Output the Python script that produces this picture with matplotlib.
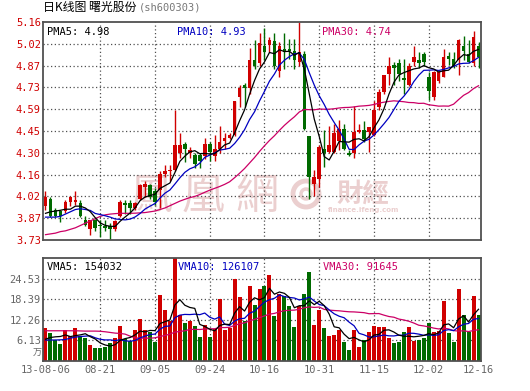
import matplotlib
matplotlib.use('Agg')
import matplotlib.pyplot as plt
from matplotlib.patches import Circle

W, H = 530, 391

# x axis labels (trading-day index of each label)
dates = ['13-08-06', '08-21', '09-05', '09-24', '10-16', '10-31', '11-15', '12-02', '12-16']
date_pos = [0, 11, 22, 33, 44, 55, 66, 77, 87]

opens = [3.95, 4.00, 3.93, 3.92, 3.92, 3.98, 3.98, 3.97, 3.86, 3.80,
         3.86, 3.83, 3.82, 3.82, 3.80, 3.89, 3.97, 3.97, 3.94, 4.00,
         4.08, 4.09, 4.05, 4.06, 4.16, 4.18, 4.19, 4.30, 4.36, 4.30,
         4.29, 4.29, 4.28, 4.36, 4.28, 4.33, 4.38, 4.40, 4.42, 4.67,
         4.75, 4.73, 4.91, 4.89, 5.00, 5.01, 5.035, 4.84, 4.98, 4.98,
         4.97, 4.90, 4.95, 4.41, 4.10, 4.13, 4.33, 4.31, 4.31, 4.38,
         4.46, 4.30, 4.30, 4.44, 4.45, 4.44, 4.42, 4.60, 4.70, 4.82,
         4.88, 4.89, 4.79, 4.75, 4.90, 4.91, 4.95, 4.80, 4.67, 4.77,
         4.80, 4.94, 4.92, 4.91, 5.00, 4.95, 4.89, 5.00]
highs = [4.05, 4.01, 3.94, 3.93, 3.99, 4.02, 4.05, 3.99, 3.89, 3.86,
         3.87, 3.86, 3.86, 3.84, 3.86, 3.99, 3.99, 3.99, 3.98, 4.10,
         4.12, 4.10, 4.07, 4.18, 4.22, 4.22, 4.58, 4.43, 4.37, 4.34,
         4.30, 4.30, 4.40, 4.37, 4.42, 4.48, 4.43, 4.43, 4.64, 4.75,
         4.76, 4.99, 5.04, 5.09, 5.12, 5.06, 5.09, 5.03, 5.09, 5.05,
         5.05, 5.16, 4.97, 4.41, 4.19, 4.35, 4.45, 4.48, 4.49, 4.52,
         4.49, 4.32, 4.61, 4.49, 4.51, 4.47, 4.64, 4.72, 4.81, 4.93,
         4.90, 4.92, 4.92, 4.89, 5.00, 4.96, 4.96, 4.83, 4.84, 4.84,
         4.98, 4.96, 4.96, 5.05, 5.07, 5.04, 5.10, 5.03]
lows = [3.93, 3.88, 3.88, 3.85, 3.91, 3.95, 3.96, 3.88, 3.82, 3.76,
        3.79, 3.75, 3.79, 3.73, 3.79, 3.88, 3.90, 3.90, 3.93, 3.99,
        4.01, 4.00, 3.96, 3.94, 4.14, 4.12, 4.18, 4.27, 4.24, 4.27,
        4.20, 4.20, 4.26, 4.25, 4.25, 4.30, 4.33, 4.39, 4.41, 4.60,
        4.60, 4.69, 4.85, 4.87, 4.91, 4.96, 4.85, 4.80, 4.85, 4.92,
        4.85, 4.87, 4.45, 4.00, 4.02, 4.08, 4.21, 4.30, 4.30, 4.32,
        4.32, 4.28, 4.27, 4.43, 4.37, 4.31, 4.41, 4.58, 4.69, 4.75,
        4.75, 4.77, 4.69, 4.74, 4.87, 4.86, 4.87, 4.65, 4.65, 4.76,
        4.80, 4.88, 4.86, 4.81, 4.91, 4.89, 4.87, 4.86]
closes = [4.01, 3.89, 3.89, 3.89, 3.98, 4.01, 3.99, 3.89, 3.83, 3.86,
          3.81, 3.82, 3.81, 3.80, 3.855, 3.98, 3.96, 3.94, 3.97, 4.09,
          4.10, 4.01, 3.98, 4.16, 4.18, 4.19, 4.35, 4.35, 4.33, 4.32,
          4.23, 4.25, 4.36, 4.31, 4.33, 4.37, 4.40, 4.42, 4.64, 4.73,
          4.73, 4.91, 4.87, 5.02, 4.96, 5.04, 4.87, 5.00, 4.96, 4.97,
          4.91, 4.96, 4.46, 4.14, 4.145, 4.34, 4.30, 4.35, 4.43, 4.46,
          4.33, 4.29, 4.44, 4.45, 4.39, 4.47, 4.58, 4.70, 4.81, 4.87,
          4.86, 4.82, 4.78, 4.87, 4.93, 4.89, 4.90, 4.71, 4.83, 4.83,
          4.93, 4.92, 4.87, 5.04, 4.97, 4.90, 5.06, 4.93]

ma5 = [3.905, 3.915, 3.92, 3.925, 3.932, 3.932, 3.952, 3.952, 3.94, 3.916,
       3.876, 3.842, 3.826, 3.82, 3.819, 3.853, 3.881, 3.907, 3.941, 3.988,
       4.012, 4.022, 4.03, 4.068, 4.086, 4.104, 4.172, 4.246, 4.28, 4.308,
       4.316, 4.296, 4.298, 4.294, 4.296, 4.324, 4.354, 4.366, 4.432, 4.512,
       4.584, 4.686, 4.776, 4.852, 4.898, 4.96, 4.952, 4.978, 4.966, 4.968,
       4.942, 4.96, 4.852, 4.688, 4.523, 4.409, 4.277, 4.255, 4.313, 4.376,
       4.374, 4.372, 4.39, 4.394, 4.38, 4.408, 4.466, 4.518, 4.59, 4.686,
       4.764, 4.812, 4.828, 4.84, 4.852, 4.858, 4.874, 4.86, 4.852, 4.832,
       4.84, 4.844, 4.876, 4.918, 4.946, 4.94, 4.968, 4.98]
ma10 = [3.88, 3.88, 3.88, 3.885, 3.90, 3.915, 3.93, 3.935, 3.93, 3.924,
        3.904, 3.897, 3.889, 3.88, 3.868, 3.865, 3.862, 3.867, 3.881, 3.904,
        3.933, 3.952, 3.969, 4.005, 4.037, 4.058, 4.097, 4.138, 4.174, 4.197,
        4.21, 4.234, 4.272, 4.287, 4.302, 4.32, 4.325, 4.332, 4.363, 4.404,
        4.454, 4.52, 4.571, 4.642, 4.705, 4.772, 4.819, 4.877, 4.909, 4.933,
        4.951, 4.956, 4.915, 4.827, 4.746, 4.676, 4.619, 4.554, 4.501, 4.45,
        4.392, 4.325, 4.323, 4.354, 4.378, 4.391, 4.419, 4.454, 4.492, 4.533,
        4.586, 4.639, 4.673, 4.715, 4.769, 4.811, 4.843, 4.844, 4.846, 4.842,
        4.849, 4.859, 4.868, 4.885, 4.889, 4.89, 4.906, 4.928]
ma30 = [3.765, 3.77, 3.775, 3.785, 3.79, 3.80, 3.81, 3.825, 3.84, 3.855,
        3.87, 3.885, 3.895, 3.90, 3.903, 3.905, 3.905, 3.905, 3.906, 3.908,
        3.91, 3.915, 3.92, 3.93, 3.94, 3.955, 3.97, 3.985, 3.997, 4.008,
        4.016, 4.028, 4.043, 4.057, 4.069, 4.081, 4.095, 4.112, 4.139, 4.168,
        4.199, 4.235, 4.271, 4.311, 4.348, 4.383, 4.414, 4.449, 4.482, 4.511,
        4.538, 4.57, 4.586, 4.585, 4.584, 4.589, 4.588, 4.588, 4.591, 4.596,
        4.599, 4.60, 4.603, 4.608, 4.610, 4.613, 4.619, 4.628, 4.634, 4.639,
        4.643, 4.64, 4.637, 4.632, 4.631, 4.626, 4.627, 4.617, 4.613, 4.608,
        4.609, 4.608, 4.621, 4.651, 4.679, 4.697, 4.723, 4.742]

# volume in 万
volume = [9.9, 8.4, 6.25, 5.06, 9.2, 7.4, 9.9, 7.3, 6.8, 4.8,
          3.9, 4.0, 4.3, 5.3, 6.8, 10.4, 6.5, 6.0, 9.2, 12.4,
          9.2, 8.7, 5.7, 19.7, 15.2, 11.8, 31.0, 13.6, 11.4, 11.9,
          10.4, 7.2, 10.6, 7.2, 9.5, 18.4, 9.2, 9.9, 24.4, 19.0,
          11.8, 22.2, 16.7, 21.3, 22.4, 25.6, 13.4, 20.0, 19.3, 16.4,
          10.2, 16.4, 20.0, 26.6, 10.7, 15.2, 9.9, 7.4, 7.7, 9.2,
          5.7, 3.3, 9.2, 4.05, 6.25, 8.7, 10.4, 10.2, 10.2, 6.9,
          5.4, 5.7, 8.7, 10.2, 6.0, 6.25, 6.9, 11.4, 8.5, 8.9,
          18.0, 8.4, 5.7, 21.5, 13.8, 8.6, 19.3, 13.8]
vma5 = [6.5, 7.0, 7.2, 7.3, 7.76, 7.26, 7.56, 7.77, 8.12, 7.24,
        6.54, 5.36, 4.76, 4.46, 4.86, 6.16, 6.66, 7.0, 7.78, 8.9,
        8.66, 9.1, 9.04, 11.14, 11.7, 12.22, 16.68, 18.26, 16.6, 15.94,
        15.66, 10.9, 10.3, 9.46, 8.98, 10.58, 10.98, 10.84, 14.28, 16.18,
        14.86, 17.46, 18.82, 18.2, 18.88, 21.64, 19.88, 20.54, 20.14, 18.94,
        15.86, 16.46, 16.46, 17.92, 16.78, 17.78, 16.48, 13.96, 10.18, 9.88,
        7.98, 6.66, 7.02, 6.29, 5.7, 6.3, 7.72, 7.92, 9.15, 9.28,
        8.62, 7.68, 7.38, 7.38, 7.2, 7.37, 7.61, 8.15, 7.81, 8.39,
        10.74, 11.04, 9.9, 12.5, 13.48, 11.6, 13.78, 15.4]
vma10 = [6.25, 6.25, 6.25, 6.3, 6.4, 6.8, 7.1, 7.3, 7.4, 7.5,
         6.9, 6.46, 6.27, 6.29, 6.05, 6.35, 6.01, 5.88, 6.12, 6.88,
         7.41, 7.88, 8.02, 9.46, 10.3, 10.44, 12.89, 13.65, 13.87, 13.82,
         13.94, 13.79, 14.28, 13.03, 12.46, 13.12, 10.94, 10.57, 11.87, 12.58,
         12.72, 14.22, 14.83, 16.24, 17.53, 18.25, 18.67, 19.68, 19.17, 18.91,
         18.75, 18.17, 18.5, 19.03, 17.86, 16.82, 16.47, 15.21, 14.05, 13.33,
         12.88, 11.57, 10.49, 8.24, 7.79, 7.14, 7.19, 7.47, 7.72, 7.49,
         7.46, 7.7, 7.65, 8.27, 8.24, 8.0, 7.65, 7.77, 7.6, 7.8,
         9.06, 9.33, 9.03, 10.16, 10.94, 11.17, 12.41, 12.65]
vma30 = [9.0, 9.0, 9.0, 9.0, 9.0, 9.0, 9.0, 8.95, 8.9, 8.9,
         8.9, 8.85, 8.7, 8.5, 8.3, 8.2, 8.0, 7.4, 6.9, 6.8,
         6.8, 6.8, 6.9, 7.3, 7.6, 8.0, 8.6, 8.8, 9.0, 9.4,
         9.42, 9.38, 9.52, 9.59, 9.6, 9.97, 9.95, 10.03, 10.62, 11.09,
         11.36, 11.96, 12.38, 12.91, 13.43, 13.94, 14.17, 14.63, 14.97, 15.1,
         15.14, 15.39, 15.87, 16.1, 15.95, 16.06, 15.36, 15.15, 15.03, 14.94,
         14.78, 14.65, 14.61, 14.5, 14.39, 14.07, 14.11, 14.12, 13.65, 13.24,
         13.03, 12.48, 12.21, 11.84, 11.3, 10.65, 10.44, 10.15, 9.79, 9.54,
         9.8, 9.53, 9.06, 8.89, 8.99, 8.77, 9.08, 9.3]

price_ticks = [3.73, 3.873, 4.016, 4.159, 4.302, 4.445, 4.588, 4.731, 4.874, 5.017, 5.16]
price_labels = ['3.73', '3.87', '4.02', '4.16', '4.30', '4.45', '4.59', '4.73', '4.87', '5.02', '5.16']
vol_ticks = [6.13, 12.26, 18.39, 24.53]
vol_labels = ['6.13', '12.26', '18.39', '24.53']
vol_top = 30.66

RED = '#d00000'
GREEN = '#006a00'
BLUE = '#0000c0'
PINK = '#cc0066'
FRAME = '#505050'
GRID = '#505050'
WM = '#ebcfcf'
MONO = ['DejaVu Sans Mono']
CJK = ['Noto Sans CJK SC', 'DejaVu Sans']

plt.rcParams['font.family'] = MONO


def fx(px):
    return px / W


def fy(py):
    return 1 - py / H


fig = plt.figure(figsize=(W / 100, H / 100), dpi=100)
fig.patch.set_facecolor('white')
ax = fig.add_axes([fx(43), fy(240), 438 / W, 218 / H])
vax = fig.add_axes([fx(43), fy(361), 438 / W, 103 / H])

n = len(closes)
xs = list(range(n))
up = [c >= o for o, c in zip(opens, closes)]
cols = [RED if u else GREEN for u in up]

# watermark (behind the transparent axes)
for ch, cx in zip(['鳳', '凰', '網'], [151, 203, 257]):
    fig.text(fx(cx), fy(197), ch, fontsize=31, color=WM, ha='center', va='center',
             family=['Noto Sans CJK TC', 'DejaVu Sans'], zorder=-2)
fig.add_artist(Circle((3.06, (H - 194) / 100), 0.13, transform=fig.dpi_scale_trans,
                      fill=False, lw=3.5, ec=WM, zorder=-2))
fig.add_artist(Circle((3.06, (H - 194) / 100), 0.05, transform=fig.dpi_scale_trans,
                      fill=False, lw=2.5, ec=WM, zorder=-2))
fig.text(fx(363), fy(194), '財經', fontsize=19, color=WM, ha='center', va='center',
         family=['Noto Sans CJK TC', 'DejaVu Sans'], fontweight='bold', zorder=-2)
fig.text(fx(364), fy(210), 'finance.ifeng.com', fontsize=5, color=WM, ha='center',
         va='center', family=['DejaVu Sans'], fontweight='bold', zorder=-2)

for a in (ax, vax):
    a.set_facecolor('none')
    a.set_xlim(-0.5, n - 0.5)
    for s in a.spines.values():
        s.set_color(FRAME)
        s.set_linewidth(1.3)
    for gx in date_pos[1:-1]:
        a.axvline(gx, color=GRID, lw=0.9, ls=(0, (1, 2)), zorder=1)

# price panel
for t in price_ticks[1:-1]:
    ax.axhline(t, color=GRID, lw=0.9, ls=(0, (1, 2)), zorder=1)
body_lo = [min(o, c) for o, c in zip(opens, closes)]
body_h = [max(abs(c - o), 0.005) for o, c in zip(opens, closes)]
ax.vlines(xs, lows, highs, colors=cols, lw=1.0, zorder=2)
ax.bar(xs, body_h, bottom=body_lo, width=0.72, color=cols, lw=0, zorder=3)
ax.plot(xs, ma30, color=PINK, lw=0.9, zorder=4)
ax.plot(xs, ma10, color=BLUE, lw=0.9, zorder=4)
ax.plot(xs, ma5, color='black', lw=0.9, zorder=4)
ax.set_ylim(price_ticks[0], price_ticks[-1])
ax.set_yticks(price_ticks, price_labels)
ax.set_xticks([])
ax.tick_params(axis='y', length=0, pad=1.5, labelsize=7.5, labelcolor=RED)

# volume panel
for t in vol_ticks:
    vax.axhline(t, color=GRID, lw=0.9, ls=(0, (1, 2)), zorder=1)
vax.bar(xs, volume, width=0.8, color=cols, lw=0, zorder=2)
vax.plot(xs, vma30, color=PINK, lw=0.9, zorder=4)
vax.plot(xs, vma10, color=BLUE, lw=0.9, zorder=4)
vax.plot(xs, vma5, color='black', lw=0.9, zorder=4)
vax.set_ylim(0, vol_top)
vax.set_yticks(vol_ticks, vol_labels)
vax.set_xticks(date_pos, dates)
vax.tick_params(axis='y', length=0, pad=1.5, labelsize=7.5, labelcolor='#666666')
vax.tick_params(axis='x', length=0, pad=3, labelsize=7.5, labelcolor='#666666')
fig.text(fx(37), fy(353), '万', fontsize=6.5, color='#666666', ha='center',
         va='center', family=CJK)

# legends inside panels
fig.text(fx(47), fy(32), 'PMA5: 4.98', fontsize=7.5, color='black', va='center')
fig.text(fx(177), fy(32), 'PMA10: 4.93', fontsize=7.5, color=BLUE, va='center')
fig.text(fx(322), fy(32), 'PMA30: 4.74', fontsize=7.5, color=PINK, va='center')
fig.text(fx(47), fy(267), 'VMA5: 154032', fontsize=7.5, color='black', va='center')
fig.text(fx(178), fy(267), 'VMA10: 126107', fontsize=7.5, color=BLUE, va='center')
fig.text(fx(323), fy(267), 'VMA30: 91645', fontsize=7.5, color=PINK, va='center')

# title
fig.text(fx(43), fy(7), '日K线图 曙光股份', fontsize=8.6, color='black',
         va='center', ha='left', family=CJK)
fig.text(fx(139), fy(7), '(sh600303)', fontsize=7.5, color='#777777',
         va='center', ha='left')

fig.savefig('out.png', dpi=100, facecolor='white')
